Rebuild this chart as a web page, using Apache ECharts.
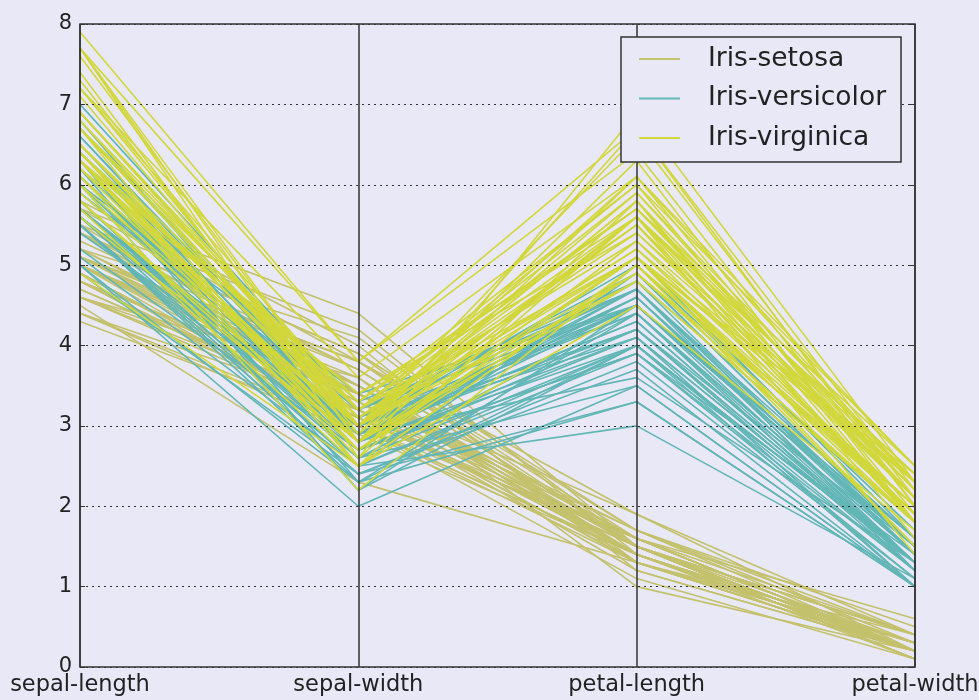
<!DOCTYPE html>
<html>
<head>
<meta charset="utf-8">
<script src="https://cdn.jsdelivr.net/npm/echarts@6/dist/echarts.min.js"></script>
<style>
  html, body { margin: 0; padding: 0; background: #e8e8f6; }
  #chart { width: 979px; height: 700px; }
</style>
</head>
<body>
<div id="chart"></div>
<script>
// Parallel coordinates of the Iris measurements, one polyline per flower.
const dimensions = ['sepal-length', 'sepal-width', 'petal-length', 'petal-width'];
const speciesNames = ['Iris-setosa', 'Iris-versicolor', 'Iris-virginica'];
const yTicks = [0, 1, 2, 3, 4, 5, 6, 7, 8];

const setosa = [
  [5.1,3.5,1.4,0.2],[4.9,3.0,1.4,0.2],[4.7,3.2,1.3,0.2],[4.6,3.1,1.5,0.2],[5.0,3.6,1.4,0.2],
  [5.4,3.9,1.7,0.4],[4.6,3.4,1.4,0.3],[5.0,3.4,1.5,0.2],[4.4,2.9,1.4,0.2],[4.9,3.1,1.5,0.1],
  [5.4,3.7,1.5,0.2],[4.8,3.4,1.6,0.2],[4.8,3.0,1.4,0.1],[4.3,3.0,1.1,0.1],[5.8,4.0,1.2,0.2],
  [5.7,4.4,1.5,0.4],[5.4,3.9,1.3,0.4],[5.1,3.5,1.4,0.3],[5.7,3.8,1.7,0.3],[5.1,3.8,1.5,0.3],
  [5.4,3.4,1.7,0.2],[5.1,3.7,1.5,0.4],[4.6,3.6,1.0,0.2],[5.1,3.3,1.7,0.5],[4.8,3.4,1.9,0.2],
  [5.0,3.0,1.6,0.2],[5.0,3.4,1.6,0.4],[5.2,3.5,1.5,0.2],[5.2,3.4,1.4,0.2],[4.7,3.2,1.6,0.2],
  [4.8,3.1,1.6,0.2],[5.4,3.4,1.5,0.4],[5.2,4.1,1.5,0.1],[5.5,4.2,1.4,0.2],[4.9,3.1,1.5,0.1],
  [5.0,3.2,1.2,0.2],[5.5,3.5,1.3,0.2],[4.9,3.1,1.5,0.1],[4.4,3.0,1.3,0.2],[5.1,3.4,1.5,0.2],
  [5.0,3.5,1.3,0.3],[4.5,2.3,1.3,0.3],[4.4,3.2,1.3,0.2],[5.0,3.5,1.6,0.6],[5.1,3.8,1.9,0.4],
  [4.8,3.0,1.4,0.3],[5.1,3.8,1.6,0.2],[4.6,3.2,1.4,0.2],[5.3,3.7,1.5,0.2],[5.0,3.3,1.4,0.2]
];
const versicolor = [
  [7.0,3.2,4.7,1.4],[6.4,3.2,4.5,1.5],[6.9,3.1,4.9,1.5],[5.5,2.3,4.0,1.3],[6.5,2.8,4.6,1.5],
  [5.7,2.8,4.5,1.3],[6.3,3.3,4.7,1.6],[4.9,2.4,3.3,1.0],[6.6,2.9,4.6,1.3],[5.2,2.7,3.9,1.4],
  [5.0,2.0,3.5,1.0],[5.9,3.0,4.2,1.5],[6.0,2.2,4.0,1.0],[6.1,2.9,4.7,1.4],[5.6,2.9,3.6,1.3],
  [6.7,3.1,4.4,1.4],[5.6,3.0,4.5,1.5],[5.8,2.7,4.1,1.0],[6.2,2.2,4.5,1.5],[5.6,2.5,3.9,1.1],
  [5.9,3.2,4.8,1.8],[6.1,2.8,4.0,1.3],[6.3,2.5,4.9,1.5],[6.1,2.8,4.7,1.2],[6.4,2.9,4.3,1.3],
  [6.6,3.0,4.4,1.4],[6.8,2.8,4.8,1.4],[6.7,3.0,5.0,1.7],[6.0,2.9,4.5,1.5],[5.7,2.6,3.5,1.0],
  [5.5,2.4,3.8,1.1],[5.5,2.4,3.7,1.0],[5.8,2.7,3.9,1.2],[6.0,2.7,5.1,1.6],[5.4,3.0,4.5,1.5],
  [6.0,3.4,4.5,1.6],[6.7,3.1,4.7,1.5],[6.3,2.3,4.4,1.3],[5.6,3.0,4.1,1.3],[5.5,2.5,4.0,1.3],
  [5.5,2.6,4.4,1.2],[6.1,3.0,4.6,1.4],[5.8,2.6,4.0,1.2],[5.0,2.3,3.3,1.0],[5.6,2.7,4.2,1.3],
  [5.7,3.0,4.2,1.2],[5.7,2.9,4.2,1.3],[6.2,2.9,4.3,1.3],[5.1,2.5,3.0,1.1],[5.7,2.8,4.1,1.3]
];
const virginica = [
  [6.3,3.3,6.0,2.5],[5.8,2.7,5.1,1.9],[7.1,3.0,5.9,2.1],[6.3,2.9,5.6,1.8],[6.5,3.0,5.8,2.2],
  [7.6,3.0,6.6,2.1],[4.9,2.5,4.5,1.7],[7.3,2.9,6.3,1.8],[6.7,2.5,5.8,1.8],[7.2,3.6,6.1,2.5],
  [6.5,3.2,5.1,2.0],[6.4,2.7,5.3,1.9],[6.8,3.0,5.5,2.1],[5.7,2.5,5.0,2.0],[5.8,2.8,5.1,2.4],
  [6.4,3.2,5.3,2.3],[6.5,3.0,5.5,1.8],[7.7,3.8,6.7,2.2],[7.7,2.6,6.9,2.3],[6.0,2.2,5.0,1.5],
  [6.9,3.2,5.7,2.3],[5.6,2.8,4.9,2.0],[7.7,2.8,6.7,2.0],[6.3,2.7,4.9,1.8],[6.7,3.3,5.7,2.1],
  [7.2,3.2,6.0,1.8],[6.2,2.8,4.8,1.8],[6.1,3.0,4.9,1.8],[6.4,2.8,5.6,2.1],[7.2,3.0,5.8,1.6],
  [7.4,2.8,6.1,1.9],[7.9,3.8,6.4,2.0],[6.4,2.8,5.6,2.2],[6.3,2.8,5.1,1.5],[6.1,2.6,5.6,1.4],
  [7.7,3.0,6.1,2.3],[6.3,3.4,5.6,2.4],[6.4,3.1,5.5,1.8],[6.0,3.0,4.8,1.8],[6.9,3.1,5.4,2.1],
  [6.7,3.1,5.6,2.4],[6.9,3.1,5.1,2.3],[5.8,2.7,5.1,1.9],[6.8,3.2,5.9,2.3],[6.7,3.3,5.7,2.5],
  [6.7,3.0,5.2,2.3],[6.3,2.5,5.0,1.9],[6.5,3.0,5.2,2.0],[6.2,3.4,5.4,2.3],[5.9,3.0,5.1,1.8]
];

const speciesColors = ['#c4c16c', '#62b6b6', '#d2d73a'];
const groups = [setosa, versicolor, virginica];

const series = [];
groups.forEach((rows, g) => {
  rows.forEach(row => {
    series.push({
      name: speciesNames[g],
      type: 'line',
      data: row,
      showSymbol: false,
      symbol: 'none',
      silent: true,
      animation: false,
      z: 2,
      lineStyle: { color: speciesColors[g], width: 1.6 },
      itemStyle: { color: speciesColors[g] }
    });
  });
});

const chart = echarts.init(document.getElementById('chart'));
const tickFont = { fontFamily: 'DejaVu Sans', fontSize: 21, color: '#222' };
const dimFont = { fontFamily: 'DejaVu Sans', fontSize: 22.5, color: '#222' };

chart.setOption({
  backgroundColor: '#e8e8f6',
  animation: false,
  grid: {
    left: 80, right: 64, top: 24, bottom: 33,
    containLabel: false,
    outerBoundsMode: 'none',
    show: true, borderColor: '#333', borderWidth: 1.5, backgroundColor: 'transparent',
    z: 4
  },
  legend: {
    data: speciesNames,
    orient: 'vertical',
    left: 621, top: 37,
    padding: [7, 15, 9, 18],
    itemGap: 9.5,
    icon: 'rect',
    itemWidth: 41, itemHeight: 2,
    backgroundColor: '#e8e8f6',
    borderColor: '#333', borderWidth: 1.5,
    textStyle: {
      fontFamily: 'DejaVu Sans', fontSize: 26.5, lineHeight: 30, color: '#222',
      padding: [0, 0, 0, 23]
    },
    z: 10
  },
  xAxis: {
    type: 'category',
    data: dimensions,
    boundaryGap: false,
    z: 5,
    axisLine: { show: false },
    axisTick: { show: false },
    axisLabel: Object.assign({ margin: 7, interval: 0 }, dimFont),
    splitLine: { show: true, interval: 0, lineStyle: { color: '#333', width: 1.5, type: 'solid' } }
  },
  yAxis: [{
    type: 'value',
    min: yTicks[0], max: yTicks[yTicks.length - 1], interval: 1,
    z: 5,
    axisLine: { show: false },
    axisTick: { show: true, inside: true, length: 5, lineStyle: { color: '#333' } },
    axisLabel: Object.assign({ margin: 8 }, tickFont),
    splitLine: { show: true, lineStyle: { color: '#333', width: 1.2, type: [2, 4] } }
  }, {
    type: 'value',
    position: 'right',
    min: yTicks[0], max: yTicks[yTicks.length - 1], interval: 1,
    z: 5,
    axisLine: { show: false },
    axisTick: { show: true, inside: true, length: 5, lineStyle: { color: '#333' } },
    axisLabel: { show: false },
    splitLine: { show: false }
  }],
  series: series
});
</script>
</body>
</html>
